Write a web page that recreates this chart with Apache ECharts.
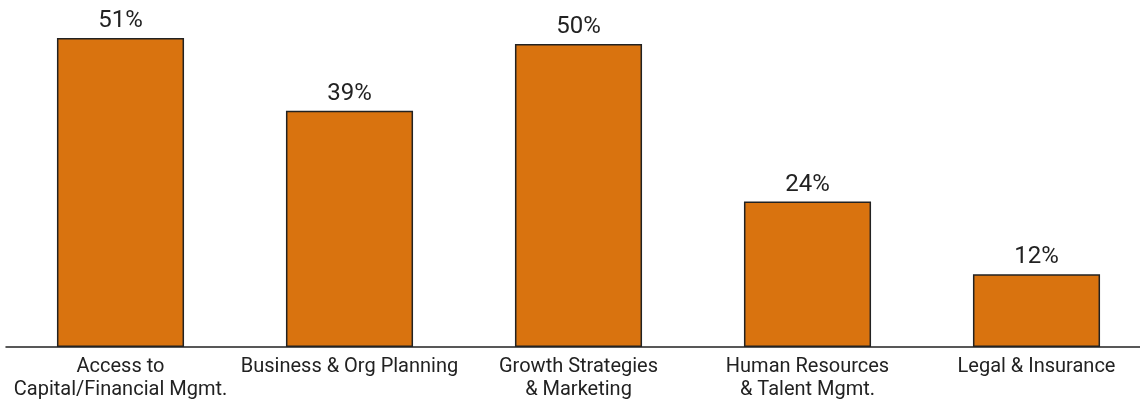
<!DOCTYPE html>
<html>
<head>
<meta charset="utf-8">
<script src="https://cdn.jsdelivr.net/npm/echarts@6/dist/echarts.min.js"></script>
<style>
html, body { margin: 0; padding: 0; background: #fff; }
#chart { width: 1140px; height: 402px; }
</style>
</head>
<body>
<div id="chart"></div>
<script>
// Share of respondents citing each support area
const categories = [
  'Access to\nCapital/Financial Mgmt.',
  'Business & Org Planning',
  'Growth Strategies\n& Marketing',
  'Human Resources\n& Talent Mgmt.',
  'Legal & Insurance'
];
const values = [51, 39, 50, 24, 12];

const chart = echarts.init(document.getElementById('chart'));
chart.setOption({
  animation: false,
  grid: {
    left: 6, width: 1145, top: 38, bottom: 55,
    containLabel: false,
    outerBoundsMode: 'none'
  },
  xAxis: {
    type: 'category',
    data: categories,
    axisLine: { lineStyle: { color: '#222', width: 1.5 } },
    axisTick: { show: false },
    axisLabel: {
      color: '#222',
      fontFamily: 'Roboto',
      fontSize: 20,
      lineHeight: 23,
      margin: 8,
      interval: 0
    }
  },
  yAxis: {
    type: 'value',
    min: 0,
    max: 51,
    show: false,
    splitLine: { show: false }
  },
  series: [{
    type: 'bar',
    data: values,
    barWidth: '55.5%',
    itemStyle: { color: '#D9730F', borderColor: '#222', borderWidth: 1.5 },
    label: {
      show: true,
      position: 'top',
      distance: 5,
      formatter: '{c}%',
      color: '#222',
      fontFamily: 'Roboto',
      fontSize: 24
    }
  }]
});
</script>
</body>
</html>
